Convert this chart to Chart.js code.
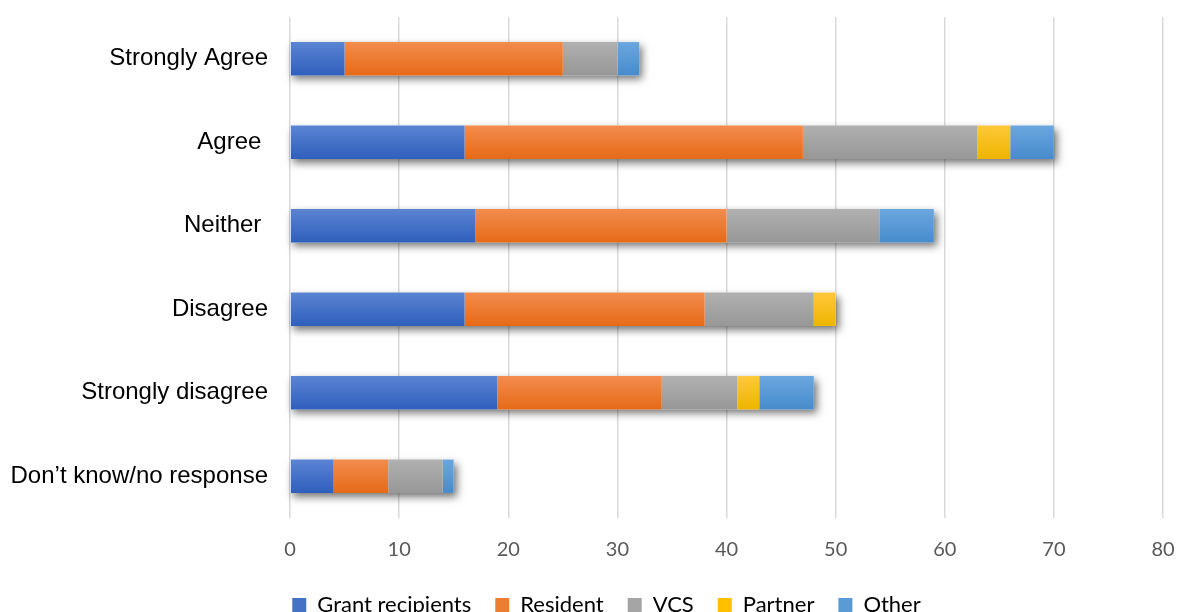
<!DOCTYPE html>
<html>
<head>
<meta charset="utf-8">
<script src="https://cdn.jsdelivr.net/npm/chart.js@4.4.1/dist/chart.umd.min.js"></script>
<style>
  html, body { margin: 0; padding: 0; background: #ffffff; }
  #wrap { width: 1179px; height: 612px; position: relative; }
</style>
</head>
<body>
<div id="wrap"><canvas id="c" width="1179" height="612"></canvas></div>
<script>
const categories = ["Strongly Agree", "Agree ", "Neither ", "Disagree", "Strongly disagree", "Don\u2019t know/no response"];
const grantRecipients = [5, 16, 17, 16, 19, 4];
const resident = [20, 31, 23, 22, 15, 5];
const vcs = [5, 16, 14, 10, 7, 5];
const partner = [0, 3, 0, 2, 2, 0];
const other = [2, 4, 5, 0, 5, 1];
const seriesNames = ["Grant recipients", "Resident", "VCS", "Partner", "Other"];
const xTicks = [0, 10, 20, 30, 40, 50, 60, 70, 80];

const palette = [
  { solid: "#4472C4", top: "#5b84d3", bottom: "#2f5fbd" },
  { solid: "#ED7D31", top: "#f38c4e", bottom: "#e56a17" },
  { solid: "#A5A5A5", top: "#b0b0b0", bottom: "#979797" },
  { solid: "#FFC000", top: "#ffc83a", bottom: "#eeb400" },
  { solid: "#5B9BD5", top: "#6ba7df", bottom: "#468bcc" }
];
const BAR_PCT = 0.4;

function gradFill(i) {
  return (ctx) => {
    const chart = ctx.chart;
    const area = chart.chartArea;
    if (!area || ctx.type !== 'data' || !chart.scales.y) return palette[i].solid;
    const y = chart.scales.y.getPixelForValue(ctx.dataIndex);
    const h = (area.bottom - area.top) / categories.length * BAR_PCT;
    const g = chart.ctx.createLinearGradient(0, y - h / 2, 0, y + h / 2);
    g.addColorStop(0, palette[i].top);
    g.addColorStop(1, palette[i].bottom);
    return g;
  };
}

const seriesData = [grantRecipients, resident, vcs, partner, other];
const datasets = seriesData.map((d, i) => ({
  label: seriesNames[i],
  data: d,
  backgroundColor: gradFill(i),
  borderWidth: 0,
  barPercentage: BAR_PCT,
  categoryPercentage: 1.0
}));

const shadowPlugin = {
  id: 'barShadow',
  beforeDatasetsDraw(chart) {
    const ctx = chart.ctx;
    const xs = chart.scales.x, ys = chart.scales.y;
    const area = chart.chartArea;
    const h = (area.bottom - area.top) / categories.length * BAR_PCT;
    ctx.save();
    ctx.shadowColor = 'rgba(0,0,0,0.55)';
    ctx.shadowBlur = 8;
    ctx.shadowOffsetX = 3;
    ctx.shadowOffsetY = 4;
    ctx.fillStyle = '#ffffff';
    categories.forEach((c, j) => {
      const total = seriesData.reduce((s, arr) => s + arr[j], 0);
      const x0 = xs.getPixelForValue(0);
      const x1 = xs.getPixelForValue(total);
      const yc = ys.getPixelForValue(j);
      ctx.fillRect(x0, yc - h / 2, x1 - x0, h);
    });
    ctx.restore();
  }
};

const LEG_PAD = 24;
const legendTune = {
  id: 'legendTune',
  afterInit(chart) {
    const lg = chart.legend;
    if (!lg) return;
    const origFit = lg.fit.bind(lg);
    lg.fit = function () { origFit(); this.height = 42; };
  },
  afterLayout(chart) {
    const lg = chart.legend;
    if (!lg) return;
    lg.left += 25; lg.right += 25;
  }
};

function noPad(scale) {
  scale.paddingTop = 0; scale.paddingBottom = 0;
  scale.paddingLeft = 0; scale.paddingRight = 0;
}

new Chart(document.getElementById('c'), {
  type: 'bar',
  data: { labels: categories, datasets },
  plugins: [shadowPlugin, legendTune],
  options: {
    indexAxis: 'y',
    responsive: false,
    animation: false,
    layout: { autoPadding: false, padding: { top: 17, right: 16, left: 0, bottom: 0 } },
    scales: {
      x: {
        stacked: true,
        min: 0, max: 80,
        afterBuildTicks(scale) { scale.ticks = xTicks.map(v => ({ value: v })); },
        afterFit(scale) { scale.height = 52; noPad(scale); },
        grid: { color: '#d9d9d9', lineWidth: 1.5, drawTicks: false },
        border: { display: false },
        ticks: { padding: 20, color: '#595959', font: { family: 'Lato', size: 20 } }
      },
      y: {
        stacked: true,
        grid: { display: false, drawTicks: false },
        border: { display: false },
        afterFit(scale) { scale.width = 290; noPad(scale); },
        ticks: { padding: 22, color: '#000000', font: { family: '"Liberation Sans", Arial', size: 24 } }
      }
    },
    plugins: {
      tooltip: { enabled: false },
      legend: {
        position: 'bottom',
        labels: {
          boxWidth: 14, boxHeight: 14, padding: LEG_PAD,
          color: '#000000',
          font: { family: 'Lato', size: 22 },
          generateLabels(chart) {
            return chart.data.datasets.map((ds, i) => ({
              text: ds.label,
              fillStyle: palette[i].solid,
              strokeStyle: palette[i].solid,
              lineWidth: 0,
              hidden: false,
              datasetIndex: i,
              fontColor: '#000000'
            }));
          }
        }
      }
    }
  }
});
</script>
</body>
</html>
